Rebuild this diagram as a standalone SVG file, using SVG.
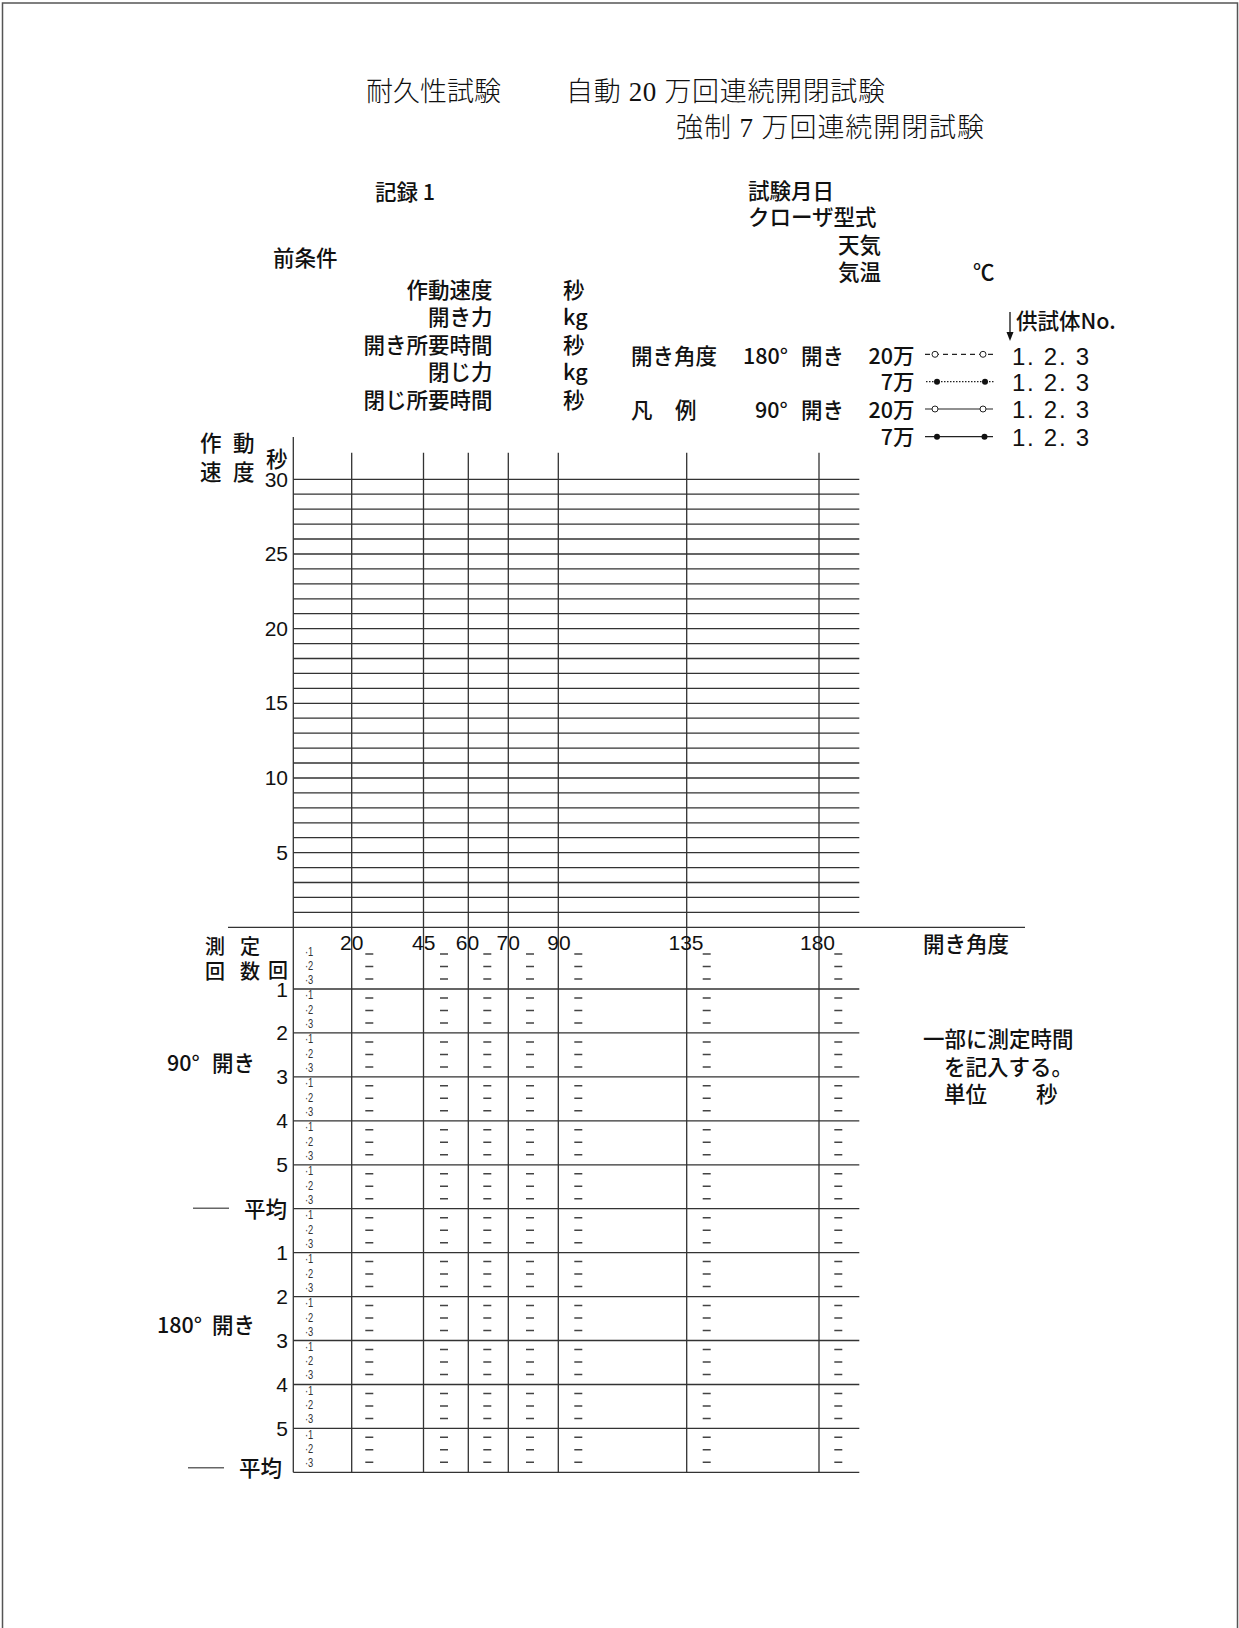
<svg xmlns="http://www.w3.org/2000/svg" xmlns:xlink="http://www.w3.org/1999/xlink" width="1239" height="1628" viewBox="0 0 1239 1628">
<style>
.t{font-family:"Noto Sans CJK JP","Liberation Sans",sans-serif;font-size:21.5px;font-weight:500;fill:#111}
.ttl{font-family:"Liberation Serif","Noto Sans CJK JP",serif;font-size:27px;font-weight:300;fill:#111}
.n{font-family:"Liberation Sans","Noto Sans CJK JP",sans-serif;font-size:21px;fill:#111}
.num{font-family:"Liberation Sans","Noto Sans CJK JP",sans-serif;font-size:24px;fill:#111}
.s{font-family:"Liberation Sans",sans-serif;font-size:13px;fill:#333}
.g{stroke:#333;stroke-width:1.3;fill:none}
.d{stroke:#444;stroke-width:1.5;fill:none}
.e{text-anchor:end}
.m{text-anchor:middle}
.sm{font-size:20px}
.lg{stroke:#222;stroke-width:1.2;fill:none}
</style>
<defs>
<g id="dashrow" class="d">
<path d="M365.3 9h8M440 9h8M483.3 9h8M526 9h8M574.3 9h8M702.7 9h8M834.3 9h8M365.3 21.5h8M440 21.5h8M483.3 21.5h8M526 21.5h8M574.3 21.5h8M702.7 21.5h8M834.3 21.5h8M365.3 34h8M440 34h8M483.3 34h8M526 34h8M574.3 34h8M702.7 34h8M834.3 34h8"/>
</g>
<g id="sublab" class="s" transform="translate(305 0) scale(0.72 1)">
<text x="0" y="10.5">·1</text>
<text x="0" y="25">·2</text>
<text x="0" y="39">·3</text>
</g>
</defs>
<rect width="1239" height="1628" fill="#fff"/>
<g id="frame" stroke="#555" stroke-width="1.5" fill="none">
<path d="M2.5 1628V3H1237.5V1628"/>
</g>

<g id="title">
<text class="ttl" x="366" y="101">耐久性試験</text>
<text class="ttl" x="566" y="101" textLength="319" lengthAdjust="spacing">自動 20 万回連続開閉試験</text>
<text class="ttl" x="676" y="137" textLength="308" lengthAdjust="spacing">強制 7 万回連続開閉試験</text>
</g>

<g id="record">
<text class="t" x="375" y="200">記録 1</text>
</g>

<g id="preconditions">
<text class="t" x="273" y="266">前条件</text>
<text class="t e" x="492.5" y="297.5">作動速度</text>
<text class="t e" x="492.5" y="324.5">開き力</text>
<text class="t e" x="492.5" y="352.5">開き所要時間</text>
<text class="t e" x="492.5" y="379.5">閉じ力</text>
<text class="t e" x="492.5" y="407.5">閉じ所要時間</text>
<text class="t" x="563" y="297.5">秒</text>
<text class="t" x="563" y="324.5">kg</text>
<text class="t" x="563" y="352.5">秒</text>
<text class="t" x="563" y="379.5">kg</text>
<text class="t" x="563" y="407.5">秒</text>
</g>

<g id="testinfo">
<text class="t" x="748" y="199">試験月日</text>
<text class="t" x="748" y="225">クローザ型式</text>
<text class="t" x="838" y="253">天気</text>
<text class="t" x="838" y="280">気温</text>
<text class="t" x="973" y="280">℃</text>
</g>

<g id="specimen">
<path d="M1010 312V333" stroke="#111" stroke-width="1.3"/>
<polygon points="1006.5,332 1013.5,332 1010,341" fill="#111"/>
<text class="t" x="1016" y="329">供試体No.</text>
</g>

<g id="legend">
<text class="t" x="631" y="364">開き角度</text>
<text class="t" x="743" y="364">180°</text>
<text class="t" x="801" y="364">開き</text>
<text class="t e" x="914.5" y="364">20万</text>
<text class="t e" x="914.5" y="389.5">7万</text>
<text class="t" x="631" y="418">凡</text>
<text class="t" x="675" y="418">例</text>
<text class="t" x="755" y="418">90°</text>
<text class="t" x="801" y="418">開き</text>
<text class="t e" x="914.5" y="418">20万</text>
<text class="t e" x="914.5" y="444.5">7万</text>
<path class="lg" d="M925 354.3H993" stroke-dasharray="5 4"/>
<circle cx="935" cy="354.3" r="3" fill="#fff" stroke="#222" stroke-width="1"/>
<circle cx="983" cy="354.3" r="3" fill="#fff" stroke="#222" stroke-width="1"/>
<path class="lg" d="M926 381.7H994" stroke-dasharray="1.5 1.5"/>
<circle cx="937" cy="381.7" r="3" fill="#111"/>
<circle cx="985" cy="381.7" r="3" fill="#111"/>
<path class="lg" d="M925 409H993"/>
<circle cx="935" cy="409" r="3" fill="#fff" stroke="#222" stroke-width="1"/>
<circle cx="983" cy="409" r="3" fill="#fff" stroke="#222" stroke-width="1"/>
<path class="lg" d="M925 436.7H993"/>
<circle cx="937" cy="436.7" r="3" fill="#111"/>
<circle cx="984.5" cy="436.7" r="3" fill="#111"/>
<text class="num" x="1012" y="364.5" textLength="77" lengthAdjust="spacing">1. 2. 3</text>
<text class="num" x="1012" y="390.5" textLength="77" lengthAdjust="spacing">1. 2. 3</text>
<text class="num" x="1012" y="417.5" textLength="77" lengthAdjust="spacing">1. 2. 3</text>
<text class="num" x="1012" y="445.5" textLength="77" lengthAdjust="spacing">1. 2. 3</text>
</g>

<g id="yaxis-label">
<text class="t" x="200" y="451">作</text>
<text class="t" x="233" y="451">動</text>
<text class="t" x="200" y="480">速</text>
<text class="t" x="233" y="480">度</text>
<text class="t" x="266" y="467">秒</text>
</g>

<g id="chart-grid" class="g">
<path d="M293.3 479.3H859.3M293.3 494.2H859.3M293.3 509.2H859.3M293.3 524.1H859.3M293.3 539H859.3M293.3 554H859.3M293.3 568.9H859.3M293.3 583.8H859.3M293.3 598.8H859.3M293.3 613.7H859.3M293.3 628.6H859.3M293.3 643.6H859.3M293.3 658.5H859.3M293.3 673.4H859.3M293.3 688.4H859.3M293.3 703.3H859.3M293.3 718.2H859.3M293.3 733.2H859.3M293.3 748.1H859.3M293.3 763H859.3M293.3 778H859.3M293.3 792.9H859.3M293.3 807.8H859.3M293.3 822.8H859.3M293.3 837.7H859.3M293.3 852.6H859.3M293.3 867.6H859.3M293.3 882.5H859.3M293.3 897.4H859.3M293.3 912.4H859.3"/>
<path d="M228 927.3H1025"/>
<path d="M293.3 989H859.3M293.3 1032.9H859.3M293.3 1076.9H859.3M293.3 1120.8H859.3M293.3 1164.8H859.3M293.3 1208.7H859.3M293.3 1252.6H859.3M293.3 1296.6H859.3M293.3 1340.5H859.3M293.3 1384.5H859.3M293.3 1428.4H859.3M293.3 1472.3H859.3"/>
<path d="M293.3 437V1472.3M351.7 452.7V1472.3M423.5 452.7V1472.3M468.3 452.7V1472.3M508.3 452.7V1472.3M558.3 452.7V1472.3M686.7 452.7V1472.3M819 452.7V1472.3"/>
</g>

<g id="y-ticks" class="n e">
<text x="288" y="486.5">30</text>
<text x="288" y="561">25</text>
<text x="288" y="635.6">20</text>
<text x="288" y="710.3">15</text>
<text x="288" y="785">10</text>
<text x="288" y="859.6">5</text>
</g>

<g id="x-ticks" class="n m">
<text x="351.7" y="950">20</text>
<text x="423.7" y="950">45</text>
<text x="467.5" y="950">60</text>
<text x="508.3" y="950">70</text>
<text x="559" y="950">90</text>
<text x="686" y="950">135</text>
<text x="817.5" y="950">180</text>
</g>
<g id="x-axis-label">
<text class="t" x="923" y="952">開き角度</text>
</g>

<g id="table-rows">
<use xlink:href="#dashrow" y="945"/>
<use xlink:href="#dashrow" y="988.94"/>
<use xlink:href="#dashrow" y="1032.88"/>
<use xlink:href="#dashrow" y="1076.82"/>
<use xlink:href="#dashrow" y="1120.76"/>
<use xlink:href="#dashrow" y="1164.7"/>
<use xlink:href="#dashrow" y="1208.64"/>
<use xlink:href="#dashrow" y="1252.58"/>
<use xlink:href="#dashrow" y="1296.52"/>
<use xlink:href="#dashrow" y="1340.46"/>
<use xlink:href="#dashrow" y="1384.4"/>
<use xlink:href="#dashrow" y="1428.34"/>
<use xlink:href="#sublab" y="945"/>
<use xlink:href="#sublab" y="988.94"/>
<use xlink:href="#sublab" y="1032.88"/>
<use xlink:href="#sublab" y="1076.82"/>
<use xlink:href="#sublab" y="1120.76"/>
<use xlink:href="#sublab" y="1164.7"/>
<use xlink:href="#sublab" y="1208.64"/>
<use xlink:href="#sublab" y="1252.58"/>
<use xlink:href="#sublab" y="1296.52"/>
<use xlink:href="#sublab" y="1340.46"/>
<use xlink:href="#sublab" y="1384.4"/>
<use xlink:href="#sublab" y="1428.34"/>
</g>

<g id="row-labels">
<text class="t sm" x="205" y="954">測</text>
<text class="t sm" x="240" y="954">定</text>
<text class="t sm" x="205" y="979">回</text>
<text class="t sm" x="240" y="979">数</text>
<text class="t sm" x="268" y="978">回</text>
<text class="n e" x="288" y="996.5">1</text>
<text class="n e" x="288" y="1040.4">2</text>
<text class="n e" x="288" y="1084.4">3</text>
<text class="n e" x="288" y="1128.3">4</text>
<text class="n e" x="288" y="1172.3">5</text>
<text class="t e" x="287" y="1217">平均</text>
<text class="n e" x="288" y="1260.1">1</text>
<text class="n e" x="288" y="1304.1">2</text>
<text class="n e" x="288" y="1348">3</text>
<text class="n e" x="288" y="1392">4</text>
<text class="n e" x="288" y="1435.9">5</text>
<text class="t e" x="282" y="1476">平均</text>
<path d="M193 1208.3H229M188 1467.7H224" stroke="#666" stroke-width="1.5"/>
<text class="t" x="167" y="1071">90°</text>
<text class="t" x="212" y="1071">開き</text>
<text class="t" x="157" y="1333">180°</text>
<text class="t" x="212" y="1333">開き</text>
</g>

<g id="note">
<text class="t" x="923" y="1047">一部に測定時間</text>
<text class="t" x="944" y="1075">を記入する。</text>
<text class="t" x="944" y="1102">単位</text>
<text class="t" x="1036" y="1102">秒</text>
</g>
</svg>
